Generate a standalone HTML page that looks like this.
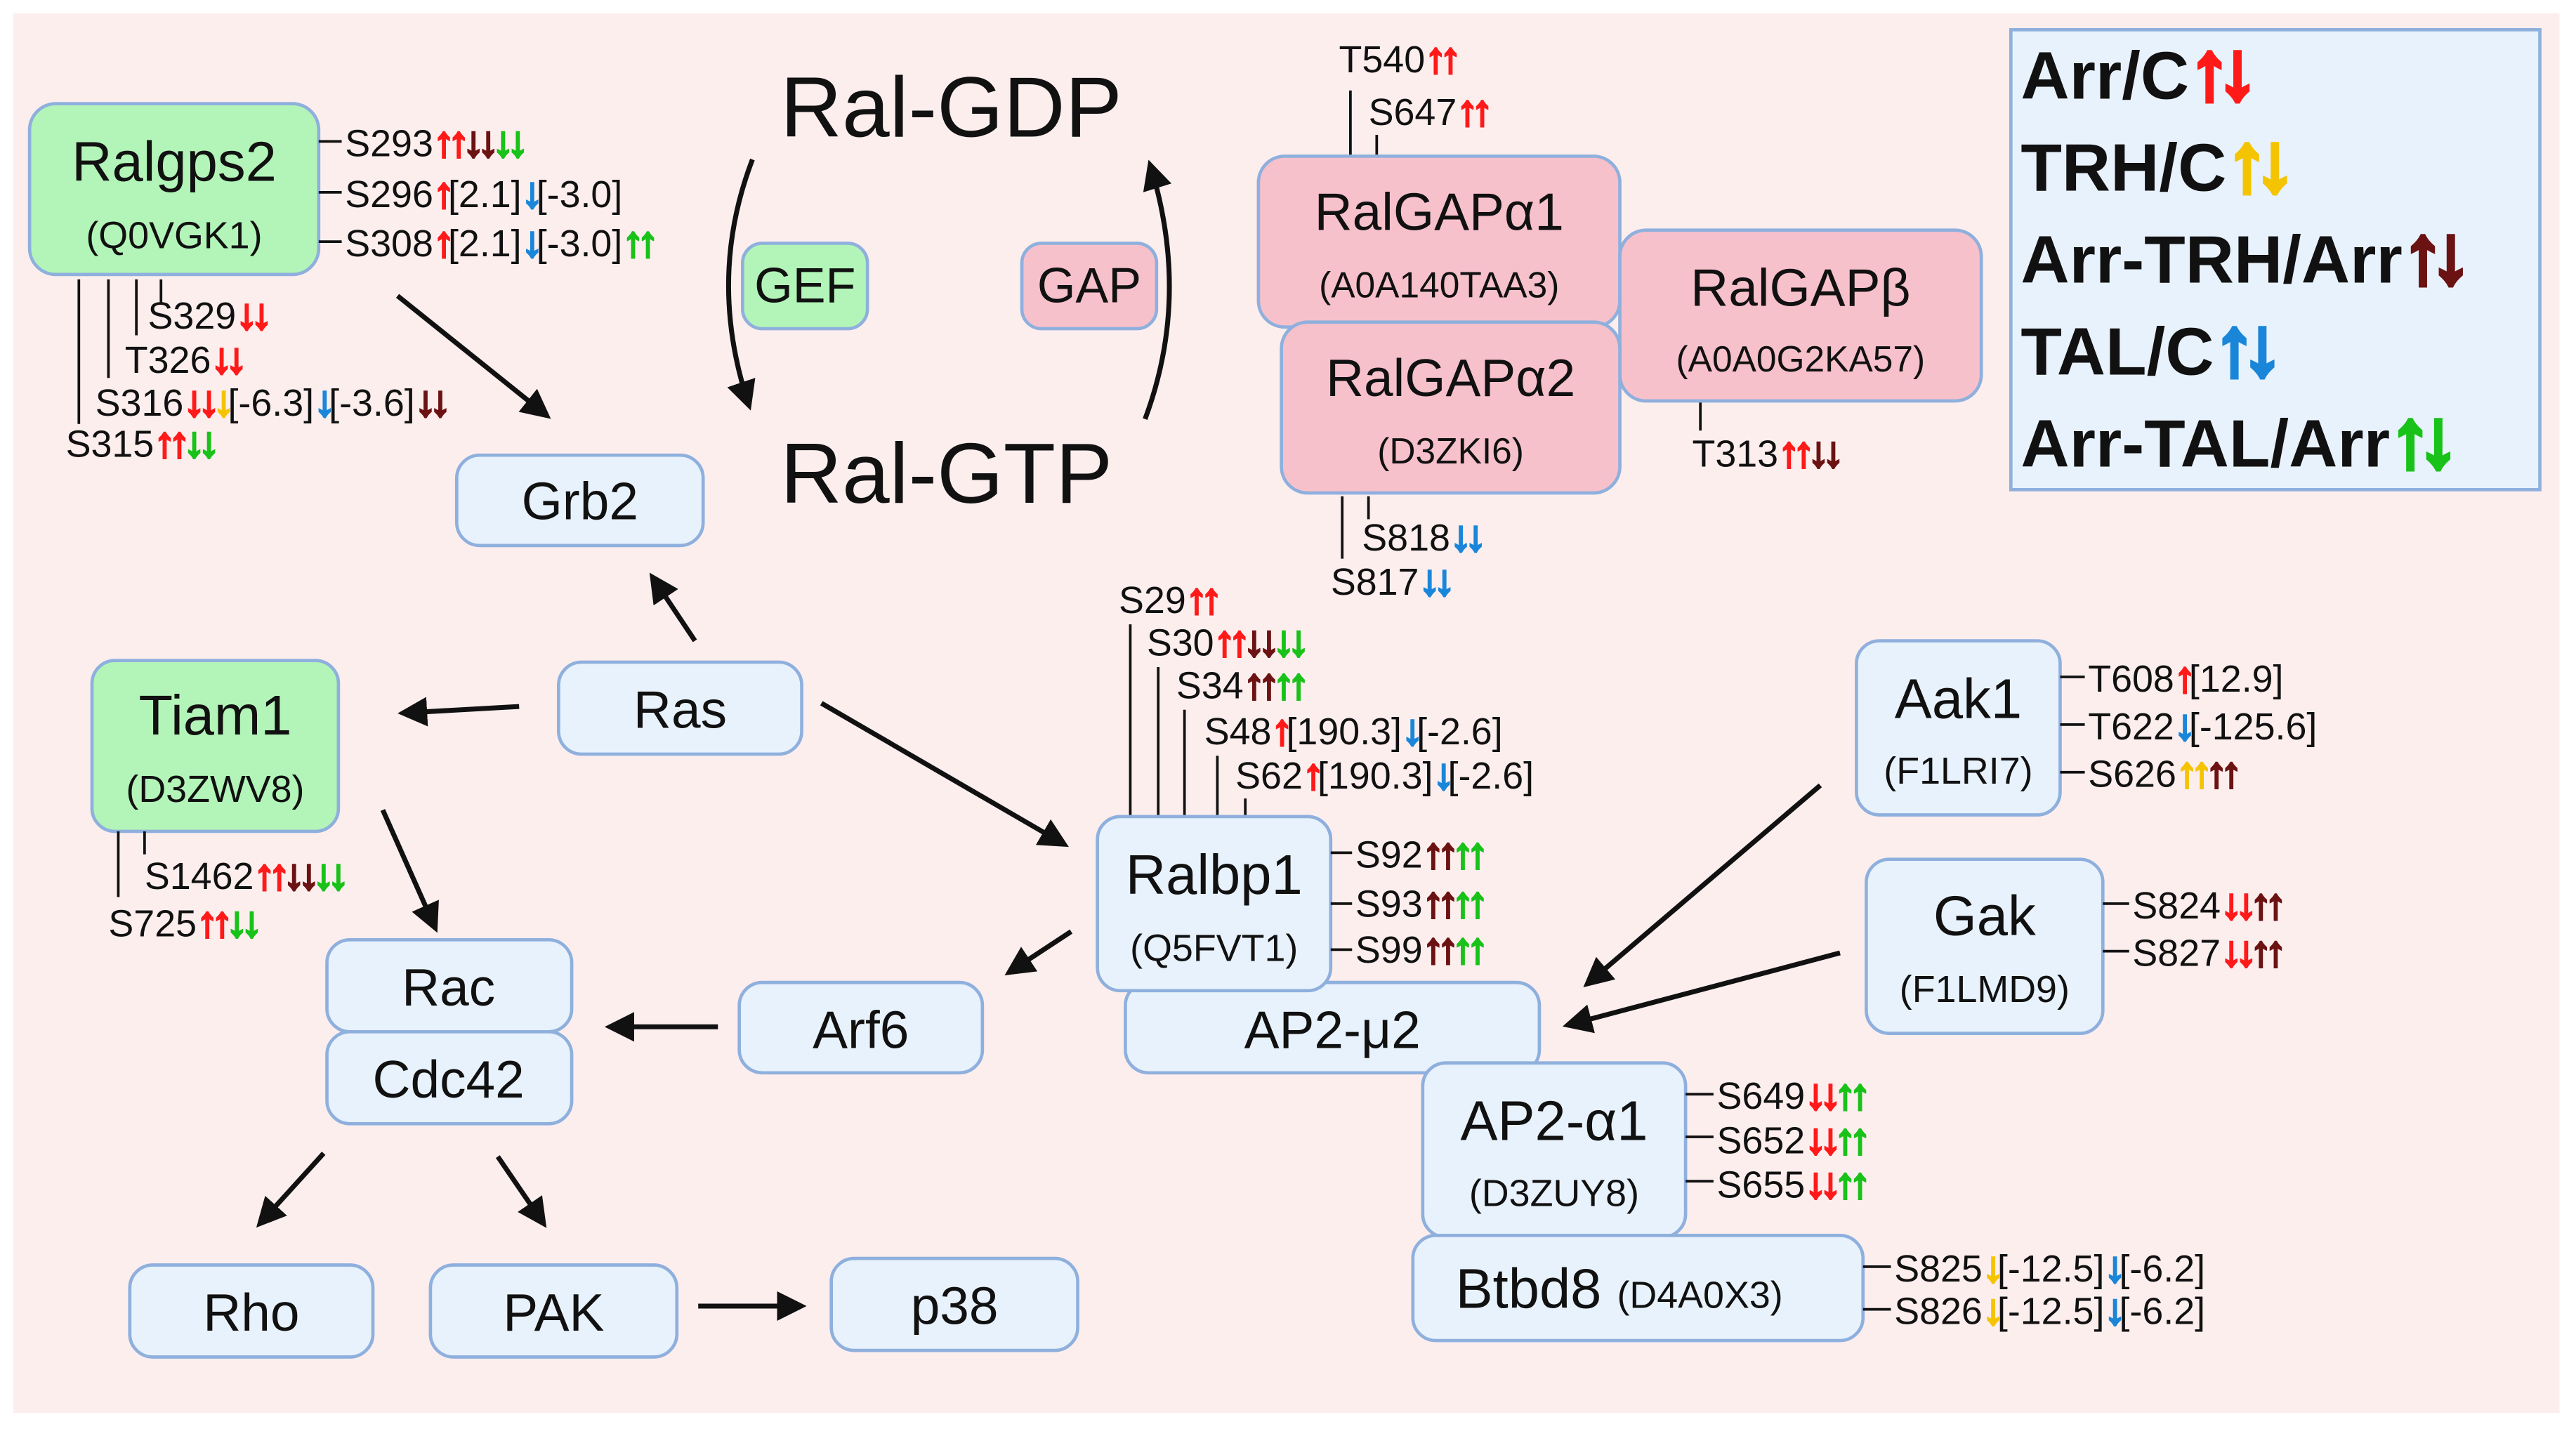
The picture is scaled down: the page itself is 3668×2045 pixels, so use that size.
<!DOCTYPE html>
<html><head><meta charset="utf-8"><style>
html,body{margin:0;padding:0;background:#fff;}
svg{display:block;}
text{font-family:"Liberation Sans",sans-serif;fill:#111;}
.s{font-size:23px;}
.s tspan.r,.s tspan.d,.s tspan.gr,.s tspan.y,.s tspan.bl{font-size:26px;font-weight:bold;stroke-width:1.4;letter-spacing:-4px;}
.b{fill:#e8f2fc;stroke:#8fb0dd;stroke-width:2;}
.g{fill:#b3f5b9;stroke:#8fb0dd;stroke-width:2;}
.p{fill:#f7c1cc;stroke:#8fb0dd;stroke-width:2;}
.l{stroke:#111;stroke-width:1.6;}
.a{stroke:#111;stroke-width:3;fill:none;marker-end:url(#ah);}
.r{fill:#ff1a1a;stroke:#ff1a1a}.d{fill:#6b1212;stroke:#6b1212}.gr{fill:#19c219;stroke:#19c219}.y{fill:#f5c400;stroke:#f5c400}.bl{fill:#1a86d9;stroke:#1a86d9}
.lg tspan{font-size:50px;stroke-width:3;letter-spacing:-8px;}
</style></head><body>
<svg width="3668" height="2045" viewBox="0 0 1568 874" xmlns="http://www.w3.org/2000/svg">
<defs><marker id="ah" markerWidth="6" markerHeight="6" refX="5" refY="3" orient="auto" markerUnits="strokeWidth"><path d="M0,0 L6,3 L0,6 z" fill="#111"/></marker></defs>
<rect x="0" y="0" width="1568" height="874" fill="#fff"/>
<rect x="8" y="8" width="1550" height="852" fill="#fdeeee"/>

<text x="475" y="83" font-size="52">Ral-GDP</text>
<text x="475" y="306" font-size="52">Ral-GTP</text>
<path class="a" d="M458,97 Q430,170 456,247"/>
<path class="a" d="M697,255 Q725,180 700,100"/>
<rect class="g" x="452" y="148" width="76" height="52" rx="12"/>
<text x="490" y="184" font-size="30" text-anchor="middle">GEF</text>
<rect class="p" x="622" y="148" width="82" height="52" rx="12"/>
<text x="663" y="184" font-size="30" text-anchor="middle">GAP</text>

<line class="a" x1="242" y1="180" x2="333" y2="253"/>
<line class="a" x1="423" y1="390" x2="397" y2="351"/>
<line class="a" x1="316" y1="430" x2="245" y2="434"/>
<line class="a" x1="500" y1="428" x2="648" y2="514"/>
<line class="a" x1="233" y1="493" x2="265" y2="565"/>
<line class="a" x1="652" y1="567" x2="614" y2="592"/>
<line class="a" x1="437" y1="625" x2="371" y2="625"/>
<line class="a" x1="1108" y1="478" x2="966" y2="599"/>
<line class="a" x1="1120" y1="580" x2="954" y2="624"/>
<line class="a" x1="197" y1="702" x2="158" y2="745"/>
<line class="a" x1="303" y1="704" x2="331" y2="745"/>
<line class="a" x1="425" y1="795" x2="488" y2="795"/>

<rect class="g" x="18" y="63" width="176" height="104" rx="16"/>
<text x="106" y="110" font-size="34" text-anchor="middle">Ralgps2</text>
<text x="106" y="151" font-size="23" text-anchor="middle">(Q0VGK1)</text>
<line class="l" x1="194" y1="86" x2="208" y2="86"/><line class="l" x1="194" y1="117" x2="208" y2="117"/><line class="l" x1="194" y1="147" x2="208" y2="147"/>
<text class="s" x="210" y="95">S293<tspan class="r">↑↑</tspan><tspan class="d">↓↓</tspan><tspan class="gr">↓↓</tspan></text>
<text class="s" x="210" y="126">S296<tspan class="r">↑</tspan>[2.1]<tspan class="bl">↓</tspan>[-3.0]</text>
<text class="s" x="210" y="156">S308<tspan class="r">↑</tspan>[2.1]<tspan class="bl">↓</tspan>[-3.0]<tspan class="gr">↑↑</tspan></text>
<line class="l" x1="48" y1="170" x2="48" y2="258"/><line class="l" x1="66" y1="170" x2="66" y2="230"/><line class="l" x1="83" y1="170" x2="83" y2="204"/><line class="l" x1="98" y1="170" x2="98" y2="184"/>
<text class="s" x="90" y="200">S329<tspan class="r">↓↓</tspan></text>
<text class="s" x="76" y="227">T326<tspan class="r">↓↓</tspan></text>
<text class="s" x="58" y="253">S316<tspan class="r">↓↓</tspan><tspan class="y">↓</tspan>[-6.3]<tspan class="bl">↓</tspan>[-3.6]<tspan class="d">↓↓</tspan></text>
<text class="s" x="40" y="278">S315<tspan class="r">↑↑</tspan><tspan class="gr">↓↓</tspan></text>

<line class="l" x1="822" y1="55" x2="822" y2="95"/><line class="l" x1="838" y1="82" x2="838" y2="95"/>
<text class="s" x="815" y="44">T540<tspan class="r">↑↑</tspan></text>
<text class="s" x="833" y="76">S647<tspan class="r">↑↑</tspan></text>
<rect class="p" x="766" y="95" width="220" height="104" rx="16"/>
<text x="876" y="140" font-size="32" text-anchor="middle">RalGAPα1</text>
<text x="876" y="181" font-size="22" text-anchor="middle">(A0A140TAA3)</text>
<rect class="p" x="986" y="140" width="220" height="104" rx="16"/>
<text x="1096" y="186" font-size="32" text-anchor="middle">RalGAPβ</text>
<text x="1096" y="226" font-size="22" text-anchor="middle">(A0A0G2KA57)</text>
<rect class="p" x="780" y="196" width="206" height="104" rx="16"/>
<text x="883" y="241" font-size="32" text-anchor="middle">RalGAPα2</text>
<text x="883" y="282" font-size="22" text-anchor="middle">(D3ZKI6)</text>
<line class="l" x1="1035" y1="245" x2="1035" y2="262"/>
<text class="s" x="1030" y="284">T313<tspan class="r">↑↑</tspan><tspan class="d">↓↓</tspan></text>
<line class="l" x1="817" y1="302" x2="817" y2="340"/><line class="l" x1="833" y1="302" x2="833" y2="316"/>
<text class="s" x="829" y="335">S818<tspan class="bl">↓↓</tspan></text>
<text class="s" x="810" y="362">S817<tspan class="bl">↓↓</tspan></text>

<rect x="1224" y="18" width="322" height="280" fill="#e8f2fc" stroke="#8fb0dd" stroke-width="2"/>
<g font-size="41" font-weight="bold" class="lg">
<text x="1230" y="60">Arr/C<tspan class="r">↑↓</tspan></text>
<text x="1230" y="116">TRH/C<tspan class="y">↑↓</tspan></text>
<text x="1230" y="172">Arr-TRH/Arr<tspan class="d">↑↓</tspan></text>
<text x="1230" y="228">TAL/C<tspan class="bl">↑↓</tspan></text>
<text x="1230" y="284">Arr-TAL/Arr<tspan class="gr">↑↓</tspan></text>
</g>

<rect class="b" x="278" y="277" width="150" height="55" rx="14"/><text x="353" y="316" font-size="32" text-anchor="middle">Grb2</text>
<rect class="b" x="340" y="403" width="148" height="56" rx="14"/><text x="414" y="443" font-size="32" text-anchor="middle">Ras</text>
<rect class="g" x="56" y="402" width="150" height="104" rx="14"/>
<text x="131" y="447" font-size="34" text-anchor="middle">Tiam1</text>
<text x="131" y="488" font-size="23" text-anchor="middle">(D3ZWV8)</text>
<line class="l" x1="72" y1="506" x2="72" y2="546"/><line class="l" x1="88" y1="506" x2="88" y2="520"/>
<text class="s" x="88" y="541">S1462<tspan class="r">↑↑</tspan><tspan class="d">↓↓</tspan><tspan class="gr">↓↓</tspan></text>
<text class="s" x="66" y="570">S725<tspan class="r">↑↑</tspan><tspan class="gr">↓↓</tspan></text>
<rect class="b" x="199" y="572" width="149" height="56" rx="14"/><text x="273" y="612" font-size="32" text-anchor="middle">Rac</text>
<rect class="b" x="199" y="628" width="149" height="56" rx="14"/><text x="273" y="668" font-size="32" text-anchor="middle">Cdc42</text>
<rect class="b" x="450" y="598" width="148" height="55" rx="14"/><text x="524" y="638" font-size="32" text-anchor="middle">Arf6</text>
<rect class="b" x="79" y="770" width="148" height="56" rx="14"/><text x="153" y="810" font-size="32" text-anchor="middle">Rho</text>
<rect class="b" x="262" y="770" width="150" height="56" rx="14"/><text x="337" y="810" font-size="32" text-anchor="middle">PAK</text>
<rect class="b" x="506" y="766" width="150" height="56" rx="14"/><text x="581" y="806" font-size="32" text-anchor="middle">p38</text>

<line class="l" x1="688" y1="380" x2="688" y2="497"/><line class="l" x1="705" y1="406" x2="705" y2="497"/><line class="l" x1="721" y1="432" x2="721" y2="497"/><line class="l" x1="741" y1="460" x2="741" y2="497"/><line class="l" x1="758" y1="486" x2="758" y2="497"/>
<text class="s" x="681" y="373">S29<tspan class="r">↑↑</tspan></text>
<text class="s" x="698" y="399">S30<tspan class="r">↑↑</tspan><tspan class="d">↓↓</tspan><tspan class="gr">↓↓</tspan></text>
<text class="s" x="716" y="425">S34<tspan class="d">↑↑</tspan><tspan class="gr">↑↑</tspan></text>
<text class="s" x="733" y="453">S48<tspan class="r">↑</tspan>[190.3]<tspan class="bl">↓</tspan>[-2.6]</text>
<text class="s" x="752" y="480">S62<tspan class="r">↑</tspan>[190.3]<tspan class="bl">↓</tspan>[-2.6]</text>
<rect class="b" x="685" y="598" width="252" height="55" rx="14"/><text x="811" y="638" font-size="32" text-anchor="middle">AP2-μ2</text>
<rect class="b" x="668" y="497" width="142" height="106" rx="14"/>
<text x="739" y="544" font-size="34" text-anchor="middle">Ralbp1</text>
<text x="739" y="585" font-size="23" text-anchor="middle">(Q5FVT1)</text>
<line class="l" x1="810" y1="519" x2="823" y2="519"/><line class="l" x1="810" y1="550" x2="823" y2="550"/><line class="l" x1="810" y1="578" x2="823" y2="578"/>
<text class="s" x="825" y="528">S92<tspan class="d">↑↑</tspan><tspan class="gr">↑↑</tspan></text>
<text class="s" x="825" y="558">S93<tspan class="d">↑↑</tspan><tspan class="gr">↑↑</tspan></text>
<text class="s" x="825" y="586">S99<tspan class="d">↑↑</tspan><tspan class="gr">↑↑</tspan></text>

<rect class="b" x="1130" y="390" width="124" height="106" rx="14"/>
<text x="1192" y="437" font-size="34" text-anchor="middle">Aak1</text>
<text x="1192" y="477" font-size="23" text-anchor="middle">(F1LRI7)</text>
<line class="l" x1="1254" y1="412" x2="1269" y2="412"/><line class="l" x1="1254" y1="441" x2="1269" y2="441"/><line class="l" x1="1254" y1="470" x2="1269" y2="470"/>
<text class="s" x="1271" y="421">T608<tspan class="r">↑</tspan>[12.9]</text>
<text class="s" x="1271" y="450">T622<tspan class="bl">↓</tspan>[-125.6]</text>
<text class="s" x="1271" y="479">S626<tspan class="y">↑↑</tspan><tspan class="d">↑↑</tspan></text>
<rect class="b" x="1136" y="523" width="144" height="106" rx="14"/>
<text x="1208" y="569" font-size="34" text-anchor="middle">Gak</text>
<text x="1208" y="610" font-size="23" text-anchor="middle">(F1LMD9)</text>
<line class="l" x1="1280" y1="550" x2="1296" y2="550"/><line class="l" x1="1280" y1="579" x2="1296" y2="579"/>
<text class="s" x="1298" y="559">S824<tspan class="r">↓↓</tspan><tspan class="d">↑↑</tspan></text>
<text class="s" x="1298" y="588">S827<tspan class="r">↓↓</tspan><tspan class="d">↑↑</tspan></text>

<rect class="b" x="866" y="647" width="160" height="106" rx="14"/>
<text x="946" y="694" font-size="34" text-anchor="middle">AP2-α1</text>
<text x="946" y="734" font-size="23" text-anchor="middle">(D3ZUY8)</text>
<line class="l" x1="1026" y1="666" x2="1043" y2="666"/><line class="l" x1="1026" y1="692" x2="1043" y2="692"/><line class="l" x1="1026" y1="719" x2="1043" y2="719"/>
<text class="s" x="1045" y="675">S649<tspan class="r">↓↓</tspan><tspan class="gr">↑↑</tspan></text>
<text class="s" x="1045" y="702">S652<tspan class="r">↓↓</tspan><tspan class="gr">↑↑</tspan></text>
<text class="s" x="1045" y="729">S655<tspan class="r">↓↓</tspan><tspan class="gr">↑↑</tspan></text>
<rect class="b" x="860" y="752" width="274" height="64" rx="14"/>
<text x="886" y="796" font-size="34">Btbd8 <tspan font-size="23">(D4A0X3)</tspan></text>
<line class="l" x1="1134" y1="771" x2="1151" y2="771"/><line class="l" x1="1134" y1="797" x2="1151" y2="797"/>
<text class="s" x="1153" y="780">S825<tspan class="y">↓</tspan>[-12.5]<tspan class="bl">↓</tspan>[-6.2]</text>
<text class="s" x="1153" y="806">S826<tspan class="y">↓</tspan>[-12.5]<tspan class="bl">↓</tspan>[-6.2]</text>
</svg>
</body></html>
